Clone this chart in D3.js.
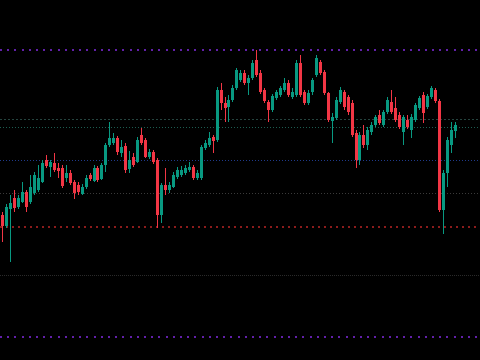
<!DOCTYPE html>
<html>
<head>
<meta charset="utf-8">
<script src="https://cdn.jsdelivr.net/npm/d3@7"></script>
<style>
  html, body { margin: 0; padding: 0; background: #000; }
  svg { display: block; }
</style>
</head>
<body>
<div id="chart"></div>
<script>
// svg size
var svgWidth = 480;
var svgHeight = 360;

// candle data (one entry per bar, oldest first)
var opens = [1992.5,1987,1995.5,2001,1996.5,1999,2004,1999,2003.5,2005,2009,2020,2016.5,2018.5,2016,2016,2011,2013.5,2009,2007.5,
  2003,2006.5,2012.5,2009.5,2016,2010.5,2017.5,2027.5,2028.5,2031,2023.5,2027,2015.5,2021.5,2019,2032.5,2030,2021.5,2024,2020,
  1992.5,2007.5,2005,2006.5,2011.5,2012.5,2013.5,2015,2016.5,2011,2011,2026,2027.5,2031.5,2030,2055,2048.5,2046.5,2050,2056,
  2060,2063.5,2058.5,2061,2070,2063.5,2055,2049,2045,2051,2052.5,2055,2058.5,2051.5,2052.5,2068.5,2054,2048.5,2054,2062.5,
  2069,2064,2053.5,2039.5,2041,2049,2054,2051.5,2048.5,2033.5,2020,2032.5,2027.5,2034,2037.5,2042.5,2037.5,2044,2049,2046,
  2042.5,2034,2040,2035,2040,2046,2052.5,2046.5,2051.5,2055,2049.5,1995,2013.5,2027.5,2034.5];
var highs = [1994,1998,2002.5,2005,2002.5,2009,2005,2012.5,2014,2017.5,2020,2022.5,2020,2023.5,2018.5,2017.5,2017.5,2015,2010,2009,
  2008,2012.5,2013.5,2017.5,2017,2018.5,2028.5,2039,2033.5,2032,2030,2028.5,2024.5,2023.5,2031.5,2036,2031,2025.5,2025,2021,
  2008.5,2016,2009,2014,2016.5,2017,2017.5,2019,2017.5,2015,2027.5,2030,2034,2032.5,2056.5,2058.5,2051.5,2052.5,2057.5,2066,
  2065,2065,2062.5,2070,2075,2065,2056,2050,2053,2055,2057,2061,2060,2056,2070,2072.5,2055,2055,2061,2072.5,
  2070,2065,2054,2043.5,2051.5,2056.5,2055,2052.5,2050,2035,2034,2037.5,2036.5,2039,2042.5,2045,2045,2051.5,2055,2051.5,
  2044,2042.5,2042.5,2043,2048.5,2052,2054,2053,2057,2056,2050.5,2015,2031.5,2039,2039];
var lows = [1979,1986,1969,1994,1995.5,1998.5,1994,1998,2002.5,2004,2008.5,2016,2011.5,2014,2011,2006,2009,2007.5,2000.5,2002.5,
  2002.5,2005.5,2009.5,2009,2009,2010,2014,2026.5,2027.5,2022.5,2021.5,2013.5,2013.5,2016.5,2018.5,2027.5,2021,2020.5,2018,1986,
  1988.5,2002.5,2003.5,2006,2010.5,2011.5,2012.5,2014,2010,2010,2010,2025,2026.5,2023.5,2029,2045,2039,2039,2049,2055,
  2059,2057.5,2052.5,2060,2061.5,2053,2048.5,2039,2044,2050,2051.5,2054,2051.5,2050.5,2051.5,2051.5,2047.5,2047.5,2052.5,2061.5,
  2062.5,2052.5,2039,2028.5,2040,2048,2045,2042.5,2031.5,2016,2017.5,2026,2025,2032.5,2036.5,2037.5,2036.5,2043,2043,2039,
  2035.5,2027.5,2035.5,2031,2039,2045,2038.5,2045.5,2050.5,2048.5,1994,1983,2006.5,2023.5,2031];
var closes = [1987,1996.5,1998.5,1996,2001,2004,1996.5,2006.5,2012.5,2011,2018.5,2017,2019,2015,2014.5,2007,2013.5,2008.5,2003.5,2004,
  2006.5,2011,2010.5,2016,2010,2017.5,2027.5,2031,2031,2024,2026.5,2015,2020,2017.5,2030,2028.5,2021.5,2024,2019,1992.5,
  2007.5,2005,2007.5,2012.5,2015,2015,2016,2016.5,2011,2013.5,2026.5,2028.5,2031,2029.5,2055,2048.5,2046,2050,2056,2065,
  2063.5,2058.5,2061,2068.5,2062.5,2054,2049.5,2045,2052,2054,2056,2058.5,2052.5,2054,2068.5,2052.5,2048.5,2053.5,2060,2071,
  2063.5,2053.5,2040,2041.5,2050,2055,2046.5,2044,2032.5,2020,2032.5,2027.5,2035,2037.5,2041.5,2038.5,2044,2050,2044,2040,
  2036.5,2041.5,2036.5,2041.5,2047.5,2051,2043.5,2052,2056,2049.5,1995,2013.5,2030,2035,2037.5];

// horizontal levels drawn across the chart
var levels = [2075, 2040.5, 2036.5, 2020, 2003.5, 1986.5, 1962.5, 1931.5];
var levelColors = ["#6220aa", "#25443f", "#1d5d51", "#1f3a8a", "#3a3a3a", "#8c1c1c", "#2a2a2a", "#6220aa"];
var levelWidths = [2, 1, 1, 1, 1, 2, 1, 2];
var levelDashes = ["2 5.2", "2 2", "1 2", "1 2", "1 2", "2 4", "1 1", "2 5.2"];

var upColor = "#089981";
var downColor = "#f23645";

var bars = opens.map(function(o, i) {
  return { i: i, open: o, high: highs[i], low: lows[i], close: closes[i] };
});

var svg = d3.select("#chart")
  .append("svg")
  .attr("width", svgWidth)
  .attr("height", svgHeight)
  .style("background", "#000");

// scales
var xScale = d3.scaleLinear()
  .domain([-0.68, 120.23])
  .range([0, svgWidth]);

var yScale = d3.scaleLinear()
  .domain([1920, 2100])
  .range([svgHeight, 0]);

// levels
svg.append("g")
  .selectAll("line")
  .data(levels)
  .enter()
  .append("line")
  .attr("x1", 0)
  .attr("x2", svgWidth)
  .attr("y1", (d, i) => levelWidths[i] % 2 ? Math.round(yScale(d)) + 0.5 : Math.round(yScale(d)))
  .attr("y2", (d, i) => levelWidths[i] % 2 ? Math.round(yScale(d)) + 0.5 : Math.round(yScale(d)))
  .attr("stroke", (d, i) => levelColors[i])
  .attr("stroke-width", (d, i) => levelWidths[i])
  .attr("stroke-dasharray", (d, i) => levelDashes[i])
  .attr("shape-rendering", "crispEdges");

// candles
var candles = svg.append("g")
  .attr("shape-rendering", "crispEdges")
  .selectAll("g")
  .data(bars)
  .enter()
  .append("g");

function colorOf(d) { return d.close >= d.open ? upColor : downColor; }
function left(d) { return Math.round(xScale(d.i) - 1.5); }

// wicks
candles.append("rect")
  .attr("x", d => left(d) + 1)
  .attr("width", 1)
  .attr("y", d => Math.round(yScale(d.high)))
  .attr("height", d => Math.max(1, Math.round(yScale(d.low)) - Math.round(yScale(d.high))))
  .attr("fill", colorOf);

// bodies
candles.append("rect")
  .attr("x", left)
  .attr("width", 3)
  .attr("y", d => Math.round(yScale(Math.max(d.open, d.close))))
  .attr("height", d => Math.max(1, Math.round(yScale(Math.min(d.open, d.close))) - Math.round(yScale(Math.max(d.open, d.close)))))
  .attr("fill", colorOf);
</script>
</body>
</html>
